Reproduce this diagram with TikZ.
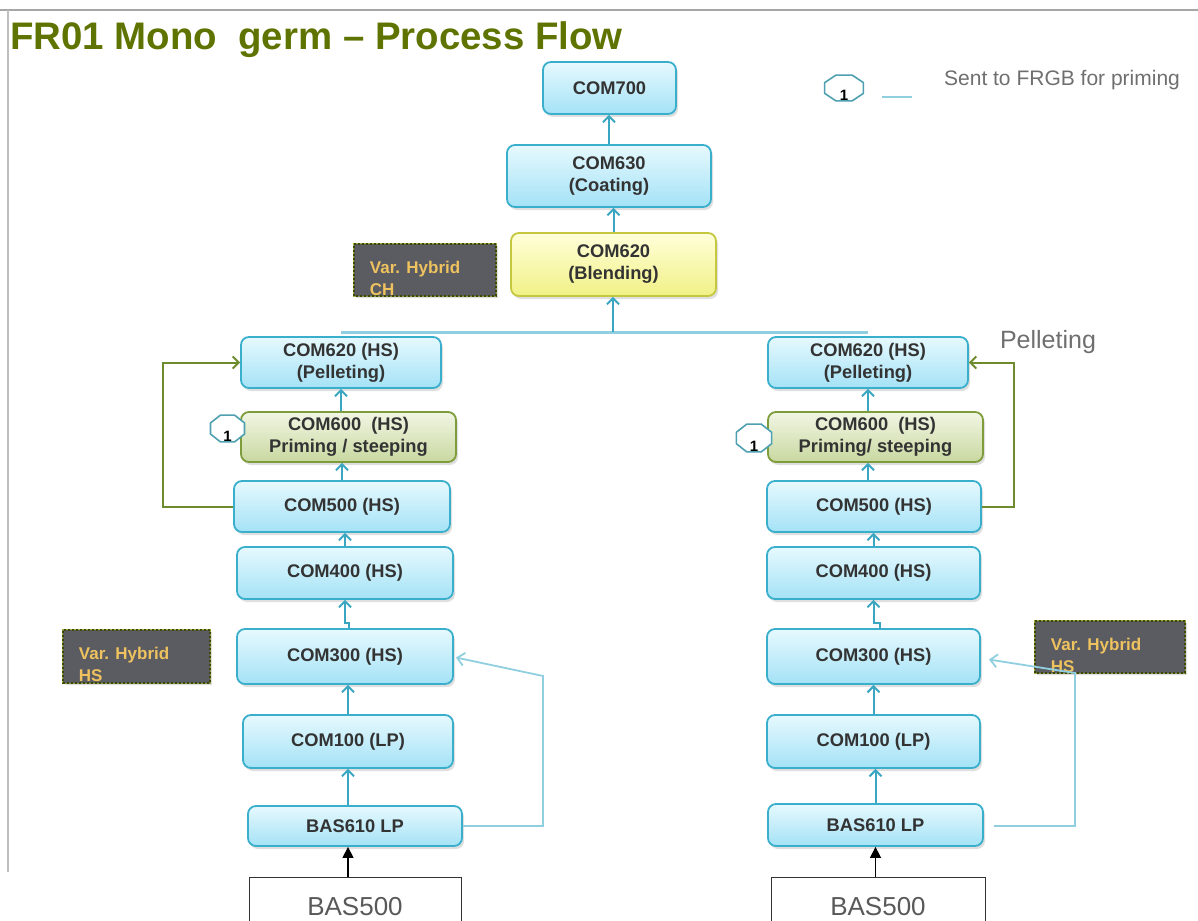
\documentclass[tikz,border=0pt]{standalone}
\usepackage{fontspec}
\setmainfont{Liberation Sans}
\usetikzlibrary{arrows.meta,shadows,shapes.misc,shapes.geometric,calc}

\definecolor{boxline}{HTML}{3AAFCB}
\definecolor{boxtop}{HTML}{E6F9FE}
\definecolor{boxbot}{HTML}{A4E2F6}
\definecolor{flow}{HTML}{3AA6C2}
\definecolor{feed}{HTML}{6E8B2E}
\definecolor{side}{HTML}{8FCFE0}
\definecolor{titlecol}{HTML}{5E7300}
\definecolor{hybfill}{HTML}{5B5B62}
\definecolor{hybtext}{HTML}{EEC25E}
\definecolor{hybline}{HTML}{3A4A00}
\definecolor{hybedge}{HTML}{A8B040}
\definecolor{greentop}{HTML}{F2F6E4}
\definecolor{greenbot}{HTML}{C8D8A0}
\definecolor{greenline}{HTML}{7E9C3A}
\definecolor{yeltop}{HTML}{FFFFDA}
\definecolor{yelbot}{HTML}{F1F186}
\definecolor{yelline}{HTML}{C5C83E}
\definecolor{graytext}{HTML}{6F6F6F}
\definecolor{octline}{HTML}{4FA0B0}

\newcommand{\octnum}[1]{\raisebox{-9pt}{\scalebox{#1}[1]{1}}}

\begin{document}
\begin{tikzpicture}[x=1pt,y=-1pt,
  stage/.style={draw=boxline, line width=1.8pt, rounded corners=8pt,
    top color=boxtop, bottom color=boxbot,
    font=\bfseries\fontsize{18.3}{22}\selectfont, text=black!80, align=center,
    inner sep=0pt,
    drop shadow={shadow xshift=2pt, shadow yshift=-3pt, opacity=0.25}},
  greenstage/.style={stage, draw=greenline, top color=greentop, bottom color=greenbot},
  yelstage/.style={stage, draw=yelline, top color=yeltop, bottom color=yelbot},
  source/.style={draw=black!80, line width=1pt, fill=white, text=black!65,
    font=\fontsize{26}{26}\selectfont, inner sep=0pt},
  hybrid/.style={chamfered rectangle, chamfered rectangle corners=north east,
    chamfered rectangle xsep=8pt,
    fill=hybfill, draw=hybline, dash pattern=on 2pt off 2pt, line width=2.6pt,
    preaction={draw=hybedge, solid, line width=2.6pt},
    inner sep=0pt,
    drop shadow={shadow xshift=2pt, shadow yshift=-2pt, opacity=0.25}},
  hyblabel/.style={anchor=north west, align=left, inner sep=0pt,
    font=\bfseries\fontsize{17}{22}\selectfont, text=hybtext,
    xshift=17pt, yshift=-18pt},
  octo/.style={regular polygon, regular polygon sides=8,
    draw=octline, line width=1.6pt, fill=white, inner sep=0pt,
    font=\bfseries\fontsize{15}{15}\selectfont, text=black,
    text height=8pt, text depth=0pt},
  flowarrow/.style={draw=flow, line width=2pt,
    -{Straight Barb[length=6pt,width=12pt,line width=2pt]}},
  joinline/.style={draw=side, line width=3pt},
  feedarrow/.style={draw=feed, line width=2pt,
    -{Straight Barb[length=6pt,width=12pt,line width=2pt]}},
  sidearrow/.style={draw=side, line width=1.8pt,
    -{Straight Barb[length=7pt,width=13pt,line width=1.8pt]}},
  feedarrow0/.style={draw=black, line width=1.5pt,
    -{Triangle[length=11pt,width=11pt]}}
]
\useasboundingbox (0,0) rectangle (1198,920);

% page frame
\draw[black!35, line width=2pt] (0,10) -- (1198,10);
\draw[black!25, line width=1.2pt] (8,10) -- (8,872);

% title
\node[anchor=west, inner sep=0pt, text=titlecol,
      font=\bfseries\fontsize{38.4}{39}\selectfont] (title) at (10,40)
  {FR01 Mono\ \ germ -- Process Flow};

% legend
\node[octo, minimum size=28pt, xscale=1.5] (legoct) at (844,88) {\octnum{0.67}};
\coordinate (legA) at (882,97);
\coordinate (legB) at (912,97);
\draw[side, line width=2pt] (legA) -- (legB);
\node[text=graytext, font=\fontsize{21}{21}\selectfont, inner sep=0pt] (legtext) at (1062,80)
  {Sent to FRGB for priming};

% common trunk
\node[stage, minimum width=133pt, minimum height=52pt] (c700) at (609.5,88) {COM700};
\node[stage, minimum width=204pt, minimum height=62pt] (c630) at (609,176) {COM630\\(Coating)};
\node[yelstage, minimum width=205pt, minimum height=63pt] (blend) at (613.5,264.5) {COM620\\(Blending)};
\node[hybrid, minimum width=142pt, minimum height=52pt,
      label={[hyblabel]north west:{Var. Hybrid\\CH}}] (hybCH) at (425,270) {};

% left line
\node[stage, minimum width=200pt, minimum height=51pt] (pelL) at (341,362.5) {COM620 (HS)\\(Pelleting)};
\node[greenstage, minimum width=215pt, minimum height=50pt] (primL) at (348.5,437) {COM600\ \ (HS)\\Priming / steeping};
\node[octo, minimum size=29pt, xscale=1.27] (octL) at (227.5,428.5) {\octnum{0.79}};
\node[stage, minimum width=216pt, minimum height=51pt] (c500L) at (342,506.5) {COM500 (HS)};
\node[stage, minimum width=216pt, minimum height=52pt] (c400L) at (345,573) {COM400 (HS)};
\node[stage, minimum width=216pt, minimum height=55pt] (c300L) at (345,656.5) {COM300 (HS)};
\node[stage, minimum width=210pt, minimum height=53pt] (c100L) at (348,741.5) {COM100 (LP)};
\node[stage, minimum width=214pt, minimum height=40pt] (b610L) at (355,826) {BAS610 LP};
\node[source, minimum width=212pt, minimum height=60pt] (b500L) at (355,907) {BAS500};
\node[hybrid, minimum width=147pt, minimum height=53pt,
      label={[hyblabel]north west:{Var. Hybrid\\HS}}] (hybL) at (136.5,656.5) {};

% right line
\node[stage, minimum width=200pt, minimum height=51pt] (pelR) at (868,362.5) {COM620 (HS)\\(Pelleting)};
\node[greenstage, minimum width=215pt, minimum height=50pt] (primR) at (875.5,437) {COM600\ \ (HS)\\Priming/ steeping};
\node[octo, minimum size=30pt, xscale=1.27] (octR) at (754,438) {\octnum{0.79}};
\node[stage, minimum width=214pt, minimum height=51pt] (c500R) at (874,506.5) {COM500 (HS)};
\node[stage, minimum width=213pt, minimum height=52pt] (c400R) at (873.5,573) {COM400 (HS)};
\node[stage, minimum width=213pt, minimum height=55pt] (c300R) at (873.5,656.5) {COM300 (HS)};
\node[stage, minimum width=213pt, minimum height=53pt] (c100R) at (873.5,741.5) {COM100 (LP)};
\node[stage, minimum width=215pt, minimum height=42pt] (b610R) at (875.5,825) {BAS610 LP};
\node[source, minimum width=214pt, minimum height=60pt] (b500R) at (878,907) {BAS500};
\node[hybrid, minimum width=150pt, minimum height=52pt,
      label={[hyblabel]north west:{Var. Hybrid\\HS}}] (hybR) at (1110,647) {};
\node[text=graytext, font=\fontsize{25}{25}\selectfont, inner sep=0pt] (pelnote) at (1048,342) {Pelleting};

% trunk connectors
\draw[flowarrow] (c630.north) -- (c630.north |- c700.south);
\draw[flowarrow] (blend.north) -- (blend.north |- c630.south);
\coordinate (join) at (613,332);
\draw[joinline] (pelL.north |- join) -- (pelR.north |- join);
\draw[flowarrow] (join) -- (join |- blend.south);

% left connectors
\draw[flowarrow] (pelL.south |- primL.north) -- (pelL.south);
\draw[flowarrow] (c500L.north) -- (c500L.north |- primL.south);
\draw[flowarrow] (c400L.north) -- (c400L.north |- c500L.south);
\draw[flowarrow] ($(c300L.north)+(4,0)$) -- ++(0,-5) -- ++(-4,0) -- (c300L.north |- c400L.south);
\draw[flowarrow] (c100L.north) -- (c100L.north |- c300L.south);
\draw[flowarrow] (c100L.south |- b610L.north) -- (c100L.south);
\draw[feedarrow0] (c100L.south |- b500L.north) -- (c100L.south |- b610L.south);
\coordinate (fbL) at (163,506.5);
\draw[feedarrow] (c500L.west) -- (fbL) |- (pelL.west);
\coordinate (sdL1) at (543,826);
\coordinate (sdL2) at (543,676);
\draw[sidearrow] (b610L.east) -- (sdL1) -- (sdL2) -- ($(c300L.east)+(2,1)$);

% right connectors
\draw[flowarrow] (pelR.south |- primR.north) -- (pelR.south);
\draw[flowarrow] (pelR.south |- c500R.north) -- (pelR.south |- primR.south);
\draw[flowarrow] (c400R.north) -- (c400R.north |- c500R.south);
\draw[flowarrow] ($(c300R.north)+(6,0)$) -- ++(0,-5) -- ++(-6,0) -- (c300R.north |- c400R.south);
\draw[flowarrow] (c100R.north) -- (c100R.north |- c300R.south);
\draw[flowarrow] (b610R.north) -- (b610R.north |- c100R.south);
\draw[feedarrow0] (b610R.south |- b500R.north) -- (b610R.south);
\coordinate (fbR) at (1014,506.5);
\draw[feedarrow] (c500R.east) -- (fbR) |- (pelR.east);
\coordinate (sdR1) at (1075,826);
\coordinate (sdR2) at (1075,673);
\draw[sidearrow, shorten <=10pt] (b610R.east |- sdR1) -- (sdR1) -- (sdR2) -- ($(c300R.east)+(8,3)$);
\end{tikzpicture}
\end{document}
